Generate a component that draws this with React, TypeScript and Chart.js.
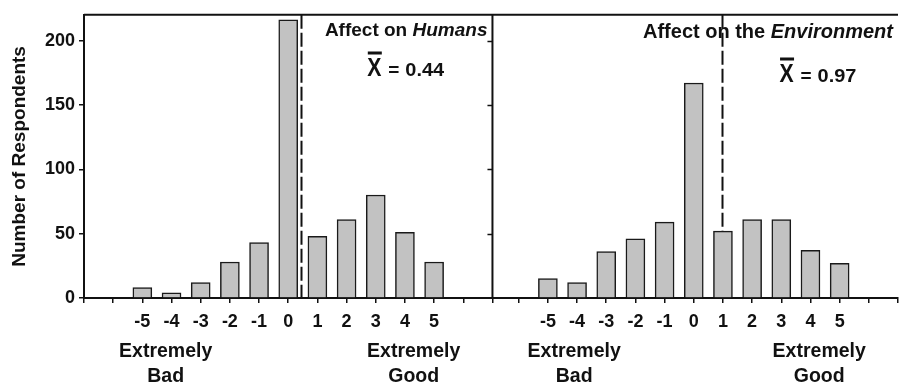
import React, { useEffect, useRef } from 'react';
import { Chart, registerables } from 'chart.js';

Chart.register(...registerables);

// ---- data ----
const ratingCategories = [-5, -4, -3, -2, -1, 0, 1, 2, 3, 4, 5];
const humansCounts = [8, 4, 12, 28, 43, 216, 48, 61, 80, 51, 28];
const environmentCounts = [15, 12, 36, 46, 59, 167, 52, 61, 61, 37, 27];
const humansMean = 0.44;
const environmentMean = 0.97;
const yTickValues = [0, 50, 100, 150, 200];
const leftPanelTicks = [-7, -6, -5, -4, -3, -2, -1, 0, 1, 2, 3, 4, 5, 6, 7];
const rightPanelTicks = [-6, -5, -4, -3, -2, -1, 0, 1, 2, 3, 4, 5, 6, 7];
const humansTitle = ['Affect on ', 'Humans'];
const environmentTitle = ['Affect on the ', 'Environment'];
const endLabelsLow = ['Extremely', 'Bad'];
const endLabelsHigh = ['Extremely', 'Good'];
const yAxisTitle = 'Number of Respondents';

// ---- layout (second panel shares the x scale, shifted) ----
const RIGHT_OFFSET = 13.9;
const X_MIN = -7;
const X_MID = 7;
const X_MAX = 7 + RIGHT_OFFSET;
const FONT = "'Liberation Sans', Arial, Helvetica, sans-serif";
const INK = '#111';

function drawTitle(ctx: CanvasRenderingContext2D, parts: string[], rightX: number, baseline: number, size: number) {
  ctx.font = `bold ${size}px ${FONT}`;
  const w1 = ctx.measureText(parts[0]).width;
  ctx.font = `italic bold ${size}px ${FONT}`;
  const w2 = ctx.measureText(parts[1]).width;
  const start = rightX - w1 - w2;
  ctx.fillStyle = INK;
  ctx.textAlign = 'left';
  ctx.textBaseline = 'alphabetic';
  ctx.font = `bold ${size}px ${FONT}`;
  ctx.fillText(parts[0], start, baseline);
  ctx.font = `italic bold ${size}px ${FONT}`;
  ctx.fillText(parts[1], start + w1, baseline);
}

function drawMean(ctx: CanvasRenderingContext2D, value: number, x: number, baseline: number) {
  ctx.save();
  ctx.translate(x, baseline);
  ctx.fillStyle = INK;
  ctx.textAlign = 'left';
  ctx.textBaseline = 'alphabetic';
  ctx.save();
  ctx.scale(0.85, 1);
  ctx.font = `bold 25px ${FONT}`;
  ctx.fillText('X', 0, 0);
  ctx.restore();
  ctx.fillRect(0.5, -24.5, 14, 3);
  ctx.font = `bold 19px ${FONT}`;
  ctx.fillText('=', 21, 0);
  ctx.save();
  ctx.translate(38, 0);
  ctx.scale(1.05, 1);
  ctx.fillText(value.toFixed(2), 0, 0);
  ctx.restore();
  ctx.restore();
}

function drawEndLabel(ctx: CanvasRenderingContext2D, lines: string[], cx: number) {
  ctx.fillStyle = INK;
  ctx.textAlign = 'center';
  ctx.textBaseline = 'alphabetic';
  ctx.font = `bold 19.5px ${FONT}`;
  ctx.fillText(lines[0], cx, 357);
  ctx.fillText(lines[1], cx, 382);
}

const decorPlugin = {
  id: 'decor',
  beforeDatasetsDraw(chart: any) {
    const { ctx, chartArea: a, scales } = chart;
    const x = scales.x;
    ctx.save();
    // panel titles
    drawTitle(ctx, humansTitle, x.getPixelForValue(X_MID) - 5, 36, 19);
    drawTitle(ctx, environmentTitle, x.getPixelForValue(X_MAX) - 5, 38, 20);
    // mean labels
    drawMean(ctx, humansMean, x.getPixelForValue(2.71), 76);
    drawMean(ctx, environmentMean, x.getPixelForValue(2.94 + RIGHT_OFFSET), 82);
    // dashed mean lines
    ctx.strokeStyle = INK;
    ctx.lineWidth = 2;
    ctx.setLineDash([14, 4]);
    [humansMean, environmentMean + RIGHT_OFFSET].forEach((m) => {
      const px = Math.round(x.getPixelForValue(m)) + 0.5;
      ctx.beginPath();
      ctx.moveTo(px, a.top);
      ctx.lineTo(px, a.bottom);
      ctx.stroke();
    });
    ctx.setLineDash([]);
    ctx.restore();
  },
  afterDraw(chart: any) {
    const { ctx, chartArea: a, scales } = chart;
    const x = scales.x;
    const y = scales.y;
    ctx.save();
    ctx.strokeStyle = INK;
    // top border
    ctx.lineWidth = 2;
    ctx.beginPath();
    ctx.moveTo(a.left, a.top);
    ctx.lineTo(a.right, a.top);
    ctx.stroke();
    // middle border between panels
    const mx = x.getPixelForValue(X_MID);
    ctx.beginPath();
    ctx.moveTo(mx, a.top);
    ctx.lineTo(mx, a.bottom);
    ctx.stroke();
    ctx.lineWidth = 1.5;
    yTickValues.slice(1).forEach((v) => {
      const py = Math.round(y.getPixelForValue(v)) + 0.5;
      ctx.beginPath();
      ctx.moveTo(mx - 5, py);
      ctx.lineTo(mx, py);
      ctx.stroke();
    });
    // end labels
    drawEndLabel(ctx, endLabelsLow, x.getPixelForValue(-4.2));
    drawEndLabel(ctx, endLabelsHigh, x.getPixelForValue(4.3));
    drawEndLabel(ctx, endLabelsLow, x.getPixelForValue(-4.1 + RIGHT_OFFSET));
    drawEndLabel(ctx, endLabelsHigh, x.getPixelForValue(4.3 + RIGHT_OFFSET));
    ctx.restore();
  },
};

const xTickValues = [
  ...leftPanelTicks,
  ...rightPanelTicks.map((t) => t + RIGHT_OFFSET),
];

function tickLabel(v: number): string {
  const k = v <= X_MID + 0.01 ? Math.round(v) : Math.round(v - RIGHT_OFFSET);
  return Math.abs(k) <= 5 ? String(k) : '';
}

export default function App() {
  const ref = useRef<HTMLCanvasElement>(null);
  useEffect(() => {
    document.body.style.margin = '0';
    document.body.style.overflow = 'hidden';
    const points = [
      ...ratingCategories.map((c, i) => ({ x: c, y: humansCounts[i] })),
      ...ratingCategories.map((c, i) => ({ x: c + RIGHT_OFFSET, y: environmentCounts[i] })),
    ];
    const chart = new Chart(ref.current!, {
      type: 'bar',
      data: {
        datasets: [
          {
            data: points as any,
            backgroundColor: '#c2c2c2',
            borderColor: '#1a1a1a',
            borderWidth: 1.5,
            borderSkipped: 'bottom',
            barThickness: 19,
          },
        ],
      },
      options: {
        responsive: false,
        animation: false,
        devicePixelRatio: 1,
        layout: { padding: { top: 12, left: 0, right: 0, bottom: 0 } },
        plugins: { legend: { display: false }, tooltip: { enabled: false } },
        scales: {
          x: {
            type: 'linear',
            min: X_MIN,
            max: X_MAX,
            offset: false,
            afterBuildTicks: (s: any) => {
              s.ticks = xTickValues.map((v) => ({ value: v }));
            },
            afterFit: (s: any) => {
              s.height = 86;
            },
            grid: {
              offset: false,
              drawOnChartArea: false,
              drawTicks: true,
              tickLength: 5,
              color: INK,
              lineWidth: 1.5,
            },
            border: { display: true, color: INK, width: 2 },
            ticks: {
              autoSkip: false,
              maxRotation: 0,
              minRotation: 0,
              padding: 8,
              color: INK,
              font: { family: FONT, size: 18, weight: 'bold' },
              callback: (v: any) => tickLabel(Number(v)),
            },
          },
          y: {
            type: 'linear',
            min: 0,
            max: 220,
            afterBuildTicks: (s: any) => {
              s.ticks = yTickValues.map((v) => ({ value: v }));
            },
            afterFit: (s: any) => {
              s.width = 84;
            },
            grid: {
              drawOnChartArea: false,
              drawTicks: true,
              tickLength: 5,
              color: INK,
              lineWidth: 1.5,
            },
            border: { display: true, color: INK, width: 2 },
            ticks: {
              padding: 4,
              color: INK,
              font: { family: FONT, size: 18, weight: 'bold' },
            },
            title: {
              display: true,
              text: yAxisTitle,
              color: INK,
              padding: { top: 8, bottom: 0 },
              font: { family: FONT, size: 19, weight: 700 },
            },
          },
        },
      },
      plugins: [decorPlugin],
    });
    return () => chart.destroy();
  }, []);
  return (
    <div style={{ position: 'fixed', left: 0, top: 0, width: 906, height: 384, background: '#fff' }}>
      <canvas ref={ref} width={906} height={384} style={{ display: 'block', width: 906, height: 384 }} />
    </div>
  );
}
